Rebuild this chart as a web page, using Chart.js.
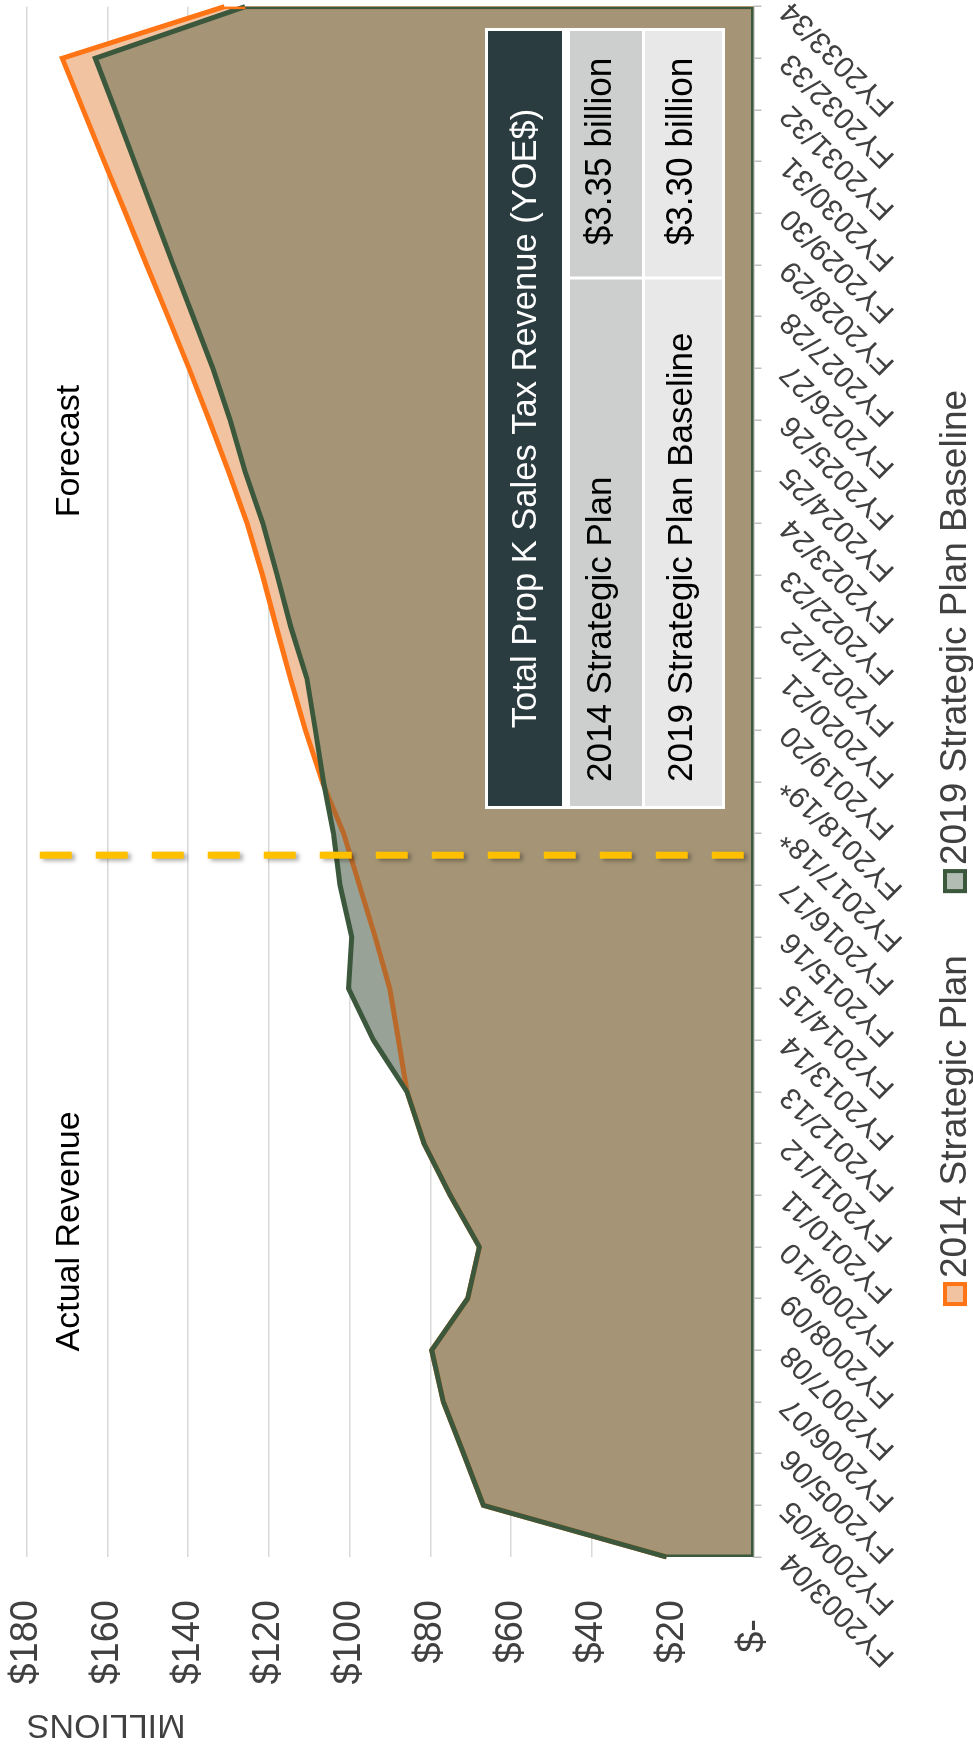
<!DOCTYPE html>
<html>
<head>
<meta charset="utf-8">
<title>Prop K Sales Tax Revenue</title>
<script src="https://cdn.jsdelivr.net/npm/chart.js@4.4.1/dist/chart.umd.min.js"></script>
<style>
  html, body { margin: 0; padding: 0; background: #ffffff; overflow: hidden; }
  /* The chart is laid out landscape and turned a quarter turn to fit the portrait page */
  #wrap {
    position: absolute; left: 0; top: 0;
    width: 1748px; height: 973px;
    transform-origin: 0 0;
    transform: translate(0px, 1748px) rotate(-90deg);
  }
  canvas { display: block; }
</style>
</head>
<body>
<div id="wrap"><canvas id="chart" width="1748" height="973"></canvas></div>
<script>
// Fiscal years on the category axis
const categories = [
  'FY2003/04', 'FY2004/05', 'FY2005/06', 'FY2006/07', 'FY2007/08', 'FY2008/09',
  'FY2009/10', 'FY2010/11', 'FY2011/12', 'FY2012/13', 'FY2013/14', 'FY2014/15',
  'FY2015/16', 'FY2016/17', 'FY2017/18*', 'FY2018/19*', 'FY2019/20', 'FY2020/21',
  'FY2021/22', 'FY2022/23', 'FY2023/24', 'FY2024/25', 'FY2025/26', 'FY2026/27',
  'FY2027/28', 'FY2028/29', 'FY2029/30', 'FY2030/31', 'FY2031/32', 'FY2032/33',
  'FY2033/34'
];

// Annual revenue, $ millions
const plan2014 = [
  21.5, 66.9, 71.8, 76.8, 79.7, 70.8, 67.9, 75.1, 81.6, 85.8,
  87.9, 90.1, 93.7, 97.6, 101.5, 106.8, 111.0, 114.7, 118.2, 121.6,
  125.4, 130.0, 134.8, 139.8, 145.0, 150.3, 155.5, 160.8, 166.0, 171.2,
  131.0
];
const baseline2019 = [
  21.5, 66.9, 71.8, 76.8, 79.7, 70.8, 67.9, 75.1, 81.6, 85.8,
  94.1, 100.3, 99.5, 102.4, 104.0, 106.5, 108.5, 110.6, 114.6, 118.0,
  121.5, 125.9, 129.6, 133.9, 138.8, 143.7, 148.5, 153.3, 158.1, 163.0,
  125.9
];

// Value axis ticks ($ millions)
const valueTicks = [0, 20, 40, 60, 80, 100, 120, 140, 160, 180];

// Series names
const seriesNames = ['2014 Strategic Plan', '2019 Strategic Plan Baseline'];

// Summary table
const tableTitle = 'Total Prop K Sales Tax Revenue (YOE$)';
const tableRows = [
  ['2014 Strategic Plan', '$3.35 billion'],
  ['2019 Strategic Plan Baseline', '$3.30 billion']
];

// Section labels and the split between actuals and forecast (category index)
const sectionLabels = [
  { text: 'Actual Revenue', at: 6.3, value: 169.4 },
  { text: 'Forecast', at: 21.4, value: 169.4 }
];
const forecastDivider = 13.58;

// Palette
const ORANGE = '#FF7415';
const ORANGE_UNDER = '#B96A2B';
const PEACH = '#F2C3A1';
const GREEN = '#3B583C';
const GREY_GREEN = '#98A297';
const TAN = '#A59576';
const LEGEND_GREEN = '#B3BCB2';
const GOLD = '#FFC000';
const AXIS_TEXT = '#404040';
const FONT = '"Liberation Sans", Arial, sans-serif';

const below = i => plan2014[i] < baseline2019[i] - 0.01;

// Text drawn with a slight horizontal squeeze
function condensedText(ctx, text, x, y, squeeze) {
  ctx.save();
  ctx.translate(x, y);
  ctx.scale(squeeze, 1);
  ctx.fillText(text, 0, 0);
  ctx.restore();
}

const decor = {
  id: 'decor',
  afterDatasetsDraw(chart) {
    const { ctx, chartArea: a, scales: { x, y } } = chart;
    const last = categories.length - 1;

    // Outline of the areas along the first/last category and the baseline
    ctx.save();
    ctx.beginPath();
    ctx.rect(a.left, a.top, a.right - a.left, a.bottom - a.top);
    ctx.clip();
    ctx.lineWidth = 5;
    ctx.lineJoin = 'miter';
    ctx.strokeStyle = ORANGE;
    ctx.beginPath();
    ctx.moveTo(x.getPixelForValue(last), y.getPixelForValue(plan2014[last]));
    ctx.lineTo(x.getPixelForValue(last), y.getPixelForValue(0));
    ctx.stroke();
    ctx.strokeStyle = GREEN;
    ctx.beginPath();
    ctx.moveTo(x.getPixelForValue(0), y.getPixelForValue(baseline2019[0]));
    ctx.lineTo(x.getPixelForValue(0), y.getPixelForValue(0));
    ctx.lineTo(x.getPixelForValue(last), y.getPixelForValue(0));
    ctx.lineTo(x.getPixelForValue(last), y.getPixelForValue(baseline2019[last]));
    ctx.stroke();
    ctx.restore();

    // Dashed divider between actual revenue and forecast
    const dx = x.getPixelForValue(forecastDivider);
    ctx.save();
    ctx.strokeStyle = GOLD;
    ctx.lineWidth = 7;
    ctx.setLineDash([32, 24]);
    ctx.shadowColor = 'rgba(0,0,0,0.35)';
    ctx.shadowBlur = 4;
    ctx.shadowOffsetX = -2;
    ctx.shadowOffsetY = 3;
    ctx.beginPath();
    ctx.moveTo(dx, a.top + 13);
    ctx.lineTo(dx, a.bottom);
    ctx.stroke();
    ctx.restore();
  },
  afterDraw(chart) {
    const { ctx, scales: { x, y } } = chart;

    // Section labels
    ctx.save();
    ctx.fillStyle = '#000000';
    ctx.font = '34px ' + FONT;
    ctx.textAlign = 'center';
    ctx.textBaseline = 'middle';
    sectionLabels.forEach(s => {
      ctx.fillText(s.text, x.getPixelForValue(s.at), y.getPixelForValue(s.value));
    });
    ctx.restore();

    // Summary table
    const T = { left: 942, right: 1717, split: 1470 };
    const rows = [
      { top: 488, bottom: 562 },
      { top: 570, bottom: 642, fill: '#CDCFCE' },
      { top: 645, bottom: 722, fill: '#E8E8E8' }
    ];
    ctx.save();
    ctx.fillStyle = '#FFFFFF';
    ctx.fillRect(T.left - 3, rows[0].top - 3, T.right - T.left + 6, rows[2].bottom - rows[0].top + 6);
    ctx.fillStyle = '#2A3C40';
    ctx.fillRect(T.left, rows[0].top, T.right - T.left, rows[0].bottom - rows[0].top);
    ctx.fillStyle = '#FFFFFF';
    ctx.font = '34.5px ' + FONT;
    ctx.textAlign = 'center';
    ctx.textBaseline = 'middle';
    ctx.fillText(tableTitle, (T.left + T.right) / 2, (rows[0].top + rows[0].bottom) / 2 + 1);
    tableRows.forEach((r, k) => {
      const row = rows[k + 1];
      ctx.fillStyle = row.fill;
      ctx.fillRect(T.left, row.top, T.split - 1.5 - T.left, row.bottom - row.top);
      ctx.fillRect(T.split + 1.5, row.top, T.right - T.split - 1.5, row.bottom - row.top);
      ctx.fillStyle = '#000000';
      ctx.textBaseline = 'alphabetic';
      const base = row.bottom - 31 + (k === 1 ? 1 : 0);
      ctx.font = '35px ' + FONT;
      ctx.textAlign = 'left';
      ctx.fillText(r[0], T.left + 24, base);
      ctx.font = '37px ' + FONT;
      ctx.textAlign = 'center';
      condensedText(ctx, r[1], (T.split + T.right) / 2 + 3, base, 0.95);
    });
    ctx.restore();

    // Legend
    const items = [
      { label: chart.data.datasets[1].label, stroke: ORANGE, fill: PEACH },
      { label: chart.data.datasets[0].label, stroke: GREEN, fill: LEGEND_GREEN }
    ];
    ctx.save();
    ctx.font = '37px ' + FONT;
    const box = 24, textGap = 4, itemGap = 62;
    const widths = items.map(it => box + textGap + ctx.measureText(it.label).width);
    const total = widths[0] + itemGap + widths[1];
    let lx = 900 - total / 2;
    const cy = 955;
    items.forEach((it, k) => {
      ctx.fillStyle = it.fill;
      ctx.fillRect(lx, cy - box / 2, box, box);
      ctx.strokeStyle = it.stroke;
      ctx.lineWidth = 4;
      ctx.strokeRect(lx + 2, cy - box / 2 + 2, box - 4, box - 4);
      ctx.fillStyle = AXIS_TEXT;
      ctx.textAlign = 'left';
      ctx.textBaseline = 'middle';
      ctx.fillText(it.label, lx + box + textGap, cy + 1);
      lx += widths[k] + itemGap;
    });
    ctx.restore();
  }
};

new Chart(document.getElementById('chart'), {
  type: 'line',
  data: {
    labels: categories,
    datasets: [
      {
        label: seriesNames[1],
        data: baseline2019,
        borderColor: GREEN,
        borderWidth: 5,
        borderJoinStyle: 'miter',
        pointRadius: 0,
        tension: 0,
        fill: false,
        order: 0
      },
      {
        label: seriesNames[0],
        data: plan2014,
        borderColor: ORANGE,
        borderWidth: 5,
        borderJoinStyle: 'miter',
        pointRadius: 0,
        tension: 0,
        fill: { target: 2, above: PEACH, below: GREY_GREEN },
        segment: {
          borderColor: c => (below(c.p0DataIndex) || below(c.p1DataIndex)) ? ORANGE_UNDER : ORANGE
        },
        order: 1
      },
      {
        label: seriesNames[1] + ' area',
        data: baseline2019,
        borderColor: 'rgba(0,0,0,0)',
        borderWidth: 1,
        pointRadius: 0,
        tension: 0,
        backgroundColor: TAN,
        fill: 'origin',
        order: 2
      }
    ]
  },
  options: {
    responsive: false,
    animation: false,
    devicePixelRatio: 1,
    layout: { padding: { left: 0, right: 6.6, top: 26.7, bottom: 0 } },
    plugins: {
      legend: { display: false },
      tooltip: { enabled: false }
    },
    scales: {
      x: {
        type: 'category',
        offset: false,
        grid: { drawOnChartArea: false, drawTicks: true, tickLength: 8, color: '#BFBFBF', lineWidth: 1.5 },
        border: { display: true, color: '#BFBFBF', width: 1.5 },
        ticks: {
          autoSkip: false,
          minRotation: 45,
          maxRotation: 45,
          padding: 12,
          color: AXIS_TEXT,
          font: { family: FONT, size: 30 }
        },
        afterFit(scale) {
          scale.height = 219.5;
          scale.paddingLeft = 0;
          scale.paddingRight = 0;
        }
      },
      y: {
        min: valueTicks[0],
        max: valueTicks[valueTicks.length - 1],
        afterBuildTicks(scale) { scale.ticks = valueTicks.map(v => ({ value: v })); },
        grid: { drawTicks: false, color: '#D9D9D9', lineWidth: 1.5 },
        border: { display: false },
        ticks: {
          padding: 43,
          color: AXIS_TEXT,
          font: { family: FONT, size: 38 },
          callback: v => v === 0 ? '$-\u2002' : '$' + v
        },
        title: {
          display: true,
          text: 'MILLIONS',
          align: 'end',
          color: AXIS_TEXT,
          font: { family: FONT, size: 34 },
          padding: { top: 3, bottom: 0 }
        },
        afterFit(scale) {
          scale.width = 191;
          scale.paddingTop = 0;
          scale.paddingBottom = 0;
        }
      }
    }
  },
  plugins: [decor]
});
</script>
</body>
</html>
